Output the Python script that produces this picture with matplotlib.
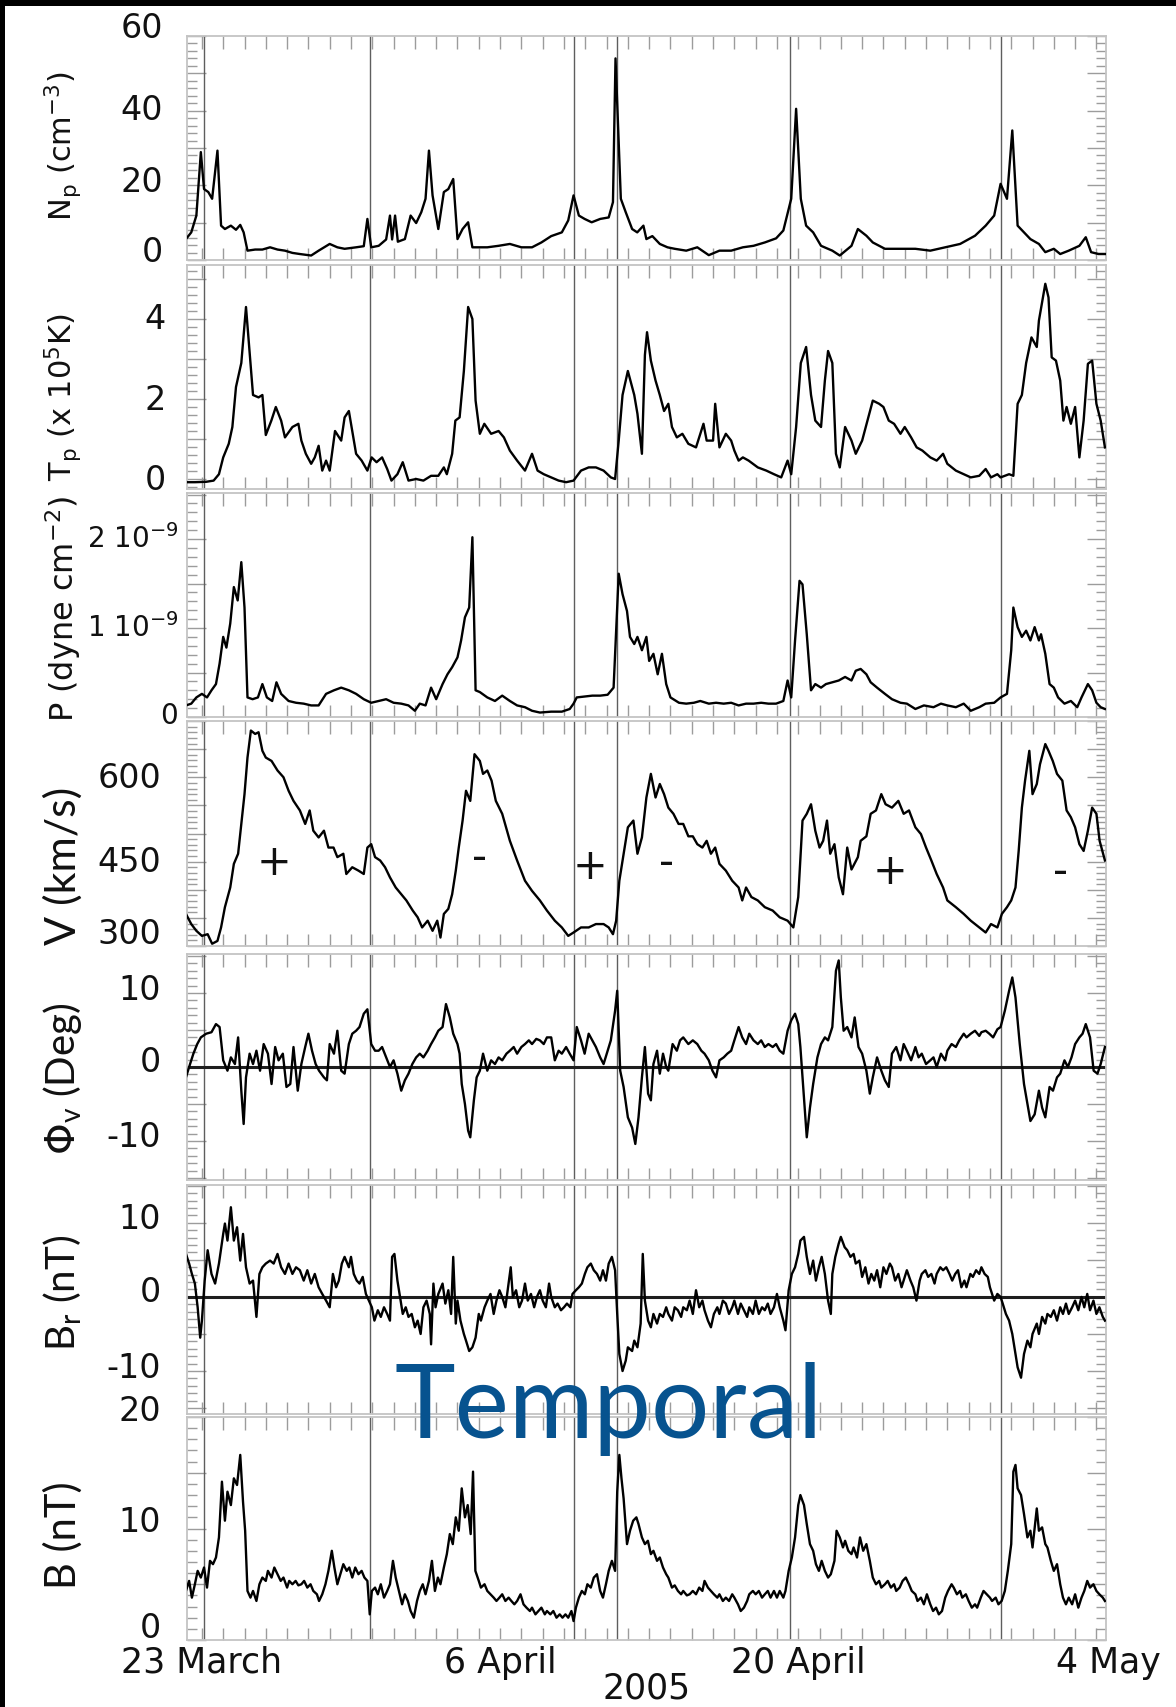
import matplotlib
matplotlib.use("Agg")
import matplotlib.pyplot as plt
from matplotlib import transforms
from matplotlib.patches import Rectangle
from matplotlib.ticker import MultipleLocator

# ------------------------------------------------------------------
# Solar-wind time series, time in days after 23 March 2005 00 UT
# ------------------------------------------------------------------
density = [  # (day, N_p  cm^-3)
    (-0.75, 5.6), (-0.5, 7.4), (-0.26, 11.9), (-0.05, 28.9), (0.1, 19.0), (0.3, 18.2), (0.48, 16.4),
    (0.73, 29.3), (0.9, 9.2), (1.08, 8.3), (1.36, 9.2), (1.6, 8.1), (1.8, 9.4), (1.96, 7.4), (2.14, 2.5),
    (2.5, 2.8), (2.84, 2.8), (3.2, 3.4), (3.55, 2.8), (3.9, 2.5), (4.25, 1.9), (4.6, 1.6), (5.13, 1.2),
    (5.48, 2.5), (6.0, 4.3), (6.36, 3.4), (6.7, 3.0), (7.24, 3.4), (7.6, 3.7), (7.77, 11.0), (7.95, 3.4),
    (8.3, 3.8), (8.65, 5.5), (8.83, 11.9), (8.93, 5.5), (9.07, 11.9), (9.2, 4.9), (9.53, 5.6), (9.8, 11.9),
    (10.06, 9.9), (10.3, 12.8), (10.5, 16.4), (10.66, 29.3), (10.83, 17.3), (11.1, 8.3), (11.36, 18.2),
    (11.57, 19.0), (11.8, 21.7), (12.0, 5.6), (12.24, 8.3), (12.5, 10.1), (12.7, 3.4), (13.4, 3.4),
    (13.93, 3.8), (14.46, 4.3), (15.0, 3.4), (15.5, 3.4), (15.94, 4.7), (16.4, 6.4), (16.9, 7.4),
    (17.2, 10.6), (17.45, 17.3), (17.7, 11.9), (17.97, 11.0), (18.3, 10.1), (18.7, 11.0), (19.1, 11.4),
    (19.3, 15.5), (19.42, 54.0), (19.67, 16.4), (19.9, 12.8), (20.2, 8.3), (20.44, 7.4), (20.73, 9.2),
    (20.87, 5.6), (21.15, 6.4), (21.5, 4.3), (21.86, 3.4), (22.2, 3.0), (22.74, 2.5), (23.26, 3.4),
    (23.8, 1.3), (24.3, 2.5), (24.85, 2.5), (25.4, 3.4), (25.9, 3.8), (26.43, 4.7), (26.96, 5.8),
    (27.3, 7.9), (27.67, 16.4), (27.9, 40.5), (28.12, 16.4), (28.37, 9.2), (28.7, 7.4), (29.07, 3.8),
    (29.6, 2.5), (29.95, 1.2), (30.5, 3.8), (30.8, 8.3), (31.2, 6.5), (31.5, 4.7), (32.07, 3.0),
    (32.77, 3.0), (33.5, 3.0), (34.2, 2.5), (34.9, 3.4), (35.6, 4.3), (36.3, 6.5), (36.8, 9.2),
    (37.2, 11.9), (37.5, 20.4), (37.8, 16.4), (38.05, 34.7), (38.3, 9.2), (38.6, 7.4), (38.9, 5.6),
    (39.3, 4.3), (39.6, 2.1), (40.0, 3.0), (40.3, 1.6), (40.7, 2.5), (41.2, 3.8), (41.5, 6.1),
    (41.75, 2.1), (42.1, 1.6), (42.4, 1.6),
]

temperature = [  # (day, T_p in 1e5 K)
    (-0.75, -0.08), (-0.33, -0.08), (0.2, -0.07), (0.55, -0.04), (0.8, 0.12), (1.0, 0.54), (1.26, 0.88),
    (1.43, 1.3), (1.6, 2.3), (1.85, 2.9), (2.07, 4.3), (2.25, 3.1), (2.4, 2.1), (2.66, 2.04), (2.84, 2.1),
    (3.0, 1.1), (3.26, 1.46), (3.47, 1.8), (3.72, 1.46), (3.9, 1.04), (4.25, 1.3), (4.53, 1.38),
    (4.67, 0.96), (4.88, 0.63), (5.13, 0.38), (5.3, 0.54), (5.48, 0.83), (5.65, 0.21), (5.83, 0.46),
    (6.0, 0.21), (6.25, 1.2), (6.54, 0.96), (6.7, 1.54), (6.9, 1.7), (7.06, 1.2), (7.24, 0.63),
    (7.5, 0.46), (7.77, 0.21), (7.97, 0.54), (8.2, 0.42), (8.46, 0.54), (8.7, 0.25), (8.9, -0.04),
    (9.18, 0.12), (9.43, 0.42), (9.7, -0.04), (10.06, 0.0), (10.4, -0.04), (10.76, 0.08), (11.1, 0.08),
    (11.36, 0.29), (11.5, 0.12), (11.75, 0.63), (11.9, 1.46), (12.1, 1.54), (12.3, 2.7), (12.5, 4.3),
    (12.7, 4.0), (12.85, 1.96), (13.05, 1.13), (13.26, 1.38), (13.58, 1.13), (13.93, 1.2), (14.18, 1.04),
    (14.46, 0.71), (14.8, 0.46), (15.17, 0.21), (15.5, 0.63), (15.76, 0.21), (16.05, 0.12), (16.4, 0.04),
    (16.75, -0.04), (17.1, -0.08), (17.45, -0.04), (17.8, 0.21), (18.16, 0.29), (18.5, 0.29),
    (18.86, 0.21), (19.2, 0.04), (19.4, 0.0), (19.57, 0.96), (19.75, 2.1), (20.0, 2.7), (20.3, 2.1),
    (20.45, 1.63), (20.66, 0.63), (20.8, 3.1), (20.9, 3.67), (21.08, 2.96), (21.3, 2.46), (21.5, 2.1),
    (21.7, 1.7), (21.9, 1.88), (22.07, 1.3), (22.3, 1.04), (22.56, 1.13), (22.84, 0.88), (23.2, 0.79),
    (23.55, 1.38), (23.7, 0.96), (24.0, 0.96), (24.1, 1.88), (24.3, 0.79), (24.6, 1.13), (24.85, 0.96),
    (25.0, 0.71), (25.2, 0.46), (25.4, 0.54), (25.67, 0.46), (26.1, 0.29), (26.5, 0.21), (26.86, 0.12),
    (27.2, 0.04), (27.5, 0.46), (27.67, 0.12), (27.9, 1.3), (28.12, 2.9), (28.37, 3.3), (28.6, 2.1),
    (28.8, 1.46), (29.07, 1.3), (29.25, 2.46), (29.4, 3.2), (29.6, 2.9), (29.77, 0.63), (29.95, 0.29),
    (30.2, 1.3), (30.5, 0.96), (30.7, 0.63), (31.0, 0.96), (31.25, 1.46), (31.5, 1.96), (31.8, 1.88),
    (32.0, 1.8), (32.25, 1.46), (32.5, 1.38), (32.8, 1.13), (33.0, 1.3), (33.3, 1.04), (33.56, 0.79),
    (33.83, 0.71), (34.2, 0.54), (34.5, 0.46), (34.8, 0.63), (35.0, 0.38), (35.4, 0.21), (35.77, 0.12),
    (36.1, 0.04), (36.5, 0.08), (36.8, 0.25), (37.05, 0.04), (37.35, 0.12), (37.5, 0.04), (37.7, 0.08),
    (37.9, 0.12), (38.1, 0.08), (38.3, 1.88), (38.5, 2.1), (38.7, 2.9), (38.95, 3.54), (39.2, 3.3),
    (39.3, 3.96), (39.6, 4.88), (39.75, 4.54), (39.9, 3.04), (40.1, 2.96), (40.3, 2.46), (40.45, 1.46),
    (40.6, 1.8), (40.8, 1.38), (41.0, 1.8), (41.2, 0.54), (41.4, 1.46), (41.6, 2.88), (41.8, 2.96),
    (42.0, 1.88), (42.2, 1.46), (42.4, 0.79),
]

pressure = [  # (day, P in 1e-9 dyne cm^-2)
    (-0.75, 0.13), (-0.5, 0.15), (-0.26, 0.22), (0.0, 0.26), (0.24, 0.22), (0.45, 0.3), (0.66, 0.37),
    (0.83, 0.6), (1.0, 0.9), (1.15, 0.78), (1.33, 1.05), (1.5, 1.46), (1.68, 1.31), (1.85, 1.74),
    (2.0, 1.23), (2.14, 0.22), (2.38, 0.2), (2.63, 0.22), (2.84, 0.37), (3.05, 0.22), (3.3, 0.18),
    (3.5, 0.39), (3.72, 0.26), (4.07, 0.18), (4.42, 0.16), (4.78, 0.15), (5.13, 0.13), (5.48, 0.13),
    (5.83, 0.26), (6.2, 0.3), (6.54, 0.33), (6.9, 0.3), (7.24, 0.26), (7.6, 0.2), (7.95, 0.16),
    (8.3, 0.18), (8.65, 0.2), (9.0, 0.16), (9.36, 0.15), (9.7, 0.13), (10.0, 0.07), (10.23, 0.15),
    (10.5, 0.13), (10.76, 0.33), (11.0, 0.2), (11.3, 0.37), (11.53, 0.48), (11.75, 0.56), (12.0, 0.67),
    (12.17, 0.86), (12.35, 1.12), (12.55, 1.23), (12.7, 2.02), (12.85, 0.3), (13.05, 0.28), (13.4, 0.22),
    (13.76, 0.18), (14.1, 0.24), (14.46, 0.18), (14.8, 0.13), (15.17, 0.11), (15.5, 0.07), (15.87, 0.05),
    (16.4, 0.06), (16.9, 0.06), (17.27, 0.09), (17.45, 0.15), (17.6, 0.22), (17.97, 0.23), (18.33, 0.24),
    (18.7, 0.24), (19.05, 0.25), (19.33, 0.33), (19.57, 1.61), (19.75, 1.38), (19.96, 1.19), (20.1, 0.9),
    (20.3, 0.82), (20.45, 0.9), (20.66, 0.75), (20.87, 0.9), (21.0, 0.63), (21.2, 0.71), (21.4, 0.48),
    (21.6, 0.71), (21.8, 0.37), (22.0, 0.22), (22.4, 0.16), (22.74, 0.15), (23.1, 0.16), (23.4, 0.18),
    (23.8, 0.15), (24.14, 0.16), (24.5, 0.15), (24.85, 0.16), (25.2, 0.13), (25.55, 0.15), (25.9, 0.15),
    (26.26, 0.16), (26.6, 0.15), (26.96, 0.15), (27.3, 0.18), (27.5, 0.41), (27.67, 0.22), (27.85, 0.86),
    (28.06, 1.53), (28.2, 1.49), (28.4, 0.93), (28.6, 0.3), (28.8, 0.37), (29.07, 0.33), (29.3, 0.37),
    (29.6, 0.39), (29.9, 0.41), (30.2, 0.45), (30.5, 0.41), (30.7, 0.52), (30.93, 0.54), (31.2, 0.48),
    (31.4, 0.39), (31.7, 0.33), (32.07, 0.26), (32.4, 0.2), (32.8, 0.16), (33.1, 0.15), (33.5, 0.09),
    (33.9, 0.13), (34.35, 0.11), (34.7, 0.15), (35.0, 0.13), (35.4, 0.11), (35.77, 0.15), (36.1, 0.07),
    (36.5, 0.11), (36.8, 0.15), (37.2, 0.16), (37.5, 0.22), (37.8, 0.26), (38.0, 0.75), (38.1, 1.23),
    (38.3, 1.01), (38.5, 0.9), (38.7, 0.97), (38.9, 0.86), (39.1, 1.01), (39.3, 0.86), (39.4, 0.93),
    (39.6, 0.71), (39.8, 0.37), (40.0, 0.33), (40.2, 0.22), (40.5, 0.15), (40.8, 0.18), (41.1, 0.11),
    (41.3, 0.22), (41.6, 0.37), (41.8, 0.3), (42.0, 0.16), (42.2, 0.11), (42.4, 0.09),
]

speed = [  # (day, V km/s)
    (-0.75, 357), (-0.5, 339), (-0.26, 327), (0.0, 318), (0.27, 321), (0.48, 304), (0.73, 309), (0.9, 333),
    (1.08, 369), (1.33, 404), (1.5, 446), (1.7, 464), (1.85, 517), (2.0, 570), (2.14, 635), (2.3, 683),
    (2.5, 677), (2.66, 680), (2.84, 647), (3.0, 635), (3.27, 629), (3.55, 612), (3.83, 600), (4.07, 576),
    (4.3, 558), (4.6, 541), (4.85, 517), (5.06, 541), (5.23, 505), (5.48, 493), (5.73, 505), (5.94, 475),
    (6.18, 475), (6.36, 458), (6.64, 464), (6.78, 428), (7.06, 440), (7.35, 434), (7.6, 428), (7.77, 475),
    (7.95, 481), (8.13, 458), (8.37, 452), (8.6, 440), (8.83, 422), (9.1, 404), (9.36, 392), (9.6, 381),
    (9.9, 363), (10.13, 351), (10.34, 333), (10.6, 345), (10.83, 327), (11.05, 345), (11.2, 315),
    (11.36, 357), (11.57, 366), (11.75, 392), (11.92, 434), (12.06, 475), (12.24, 523), (12.4, 576),
    (12.6, 558), (12.8, 641), (13.05, 629), (13.2, 606), (13.4, 612), (13.6, 594), (13.8, 558),
    (14.1, 535), (14.46, 487), (14.8, 452), (15.17, 416), (15.5, 398), (15.87, 381), (16.2, 363),
    (16.57, 345), (16.9, 333), (17.2, 318), (17.45, 324), (17.8, 333), (18.16, 333), (18.5, 339),
    (18.86, 339), (19.1, 333), (19.3, 321), (19.45, 345), (19.6, 416), (19.8, 464), (20.0, 511),
    (20.26, 523), (20.45, 464), (20.66, 493), (20.87, 564), (21.08, 606), (21.3, 564), (21.5, 588),
    (21.7, 570), (21.9, 546), (22.14, 535), (22.38, 517), (22.6, 517), (22.84, 495), (23.05, 495),
    (23.26, 481), (23.5, 475), (23.7, 487), (23.9, 464), (24.1, 475), (24.3, 446), (24.6, 434),
    (24.9, 416), (25.2, 404), (25.37, 381), (25.55, 404), (25.8, 387), (26.1, 381), (26.43, 369),
    (26.8, 363), (27.13, 351), (27.5, 345), (27.77, 333), (28.0, 387), (28.2, 523), (28.4, 535),
    (28.6, 552), (28.8, 505), (29.0, 475), (29.17, 487), (29.35, 523), (29.5, 464), (29.7, 481),
    (29.9, 422), (30.1, 392), (30.3, 475), (30.5, 436), (30.8, 458), (30.93, 487), (31.2, 495),
    (31.4, 535), (31.65, 541), (31.9, 570), (32.1, 552), (32.4, 546), (32.7, 558), (32.95, 535),
    (33.2, 541), (33.5, 511), (33.76, 499), (34.0, 475), (34.25, 452), (34.5, 428), (34.8, 404),
    (35.0, 381), (35.4, 369), (35.77, 357), (36.1, 345), (36.5, 333), (36.8, 324), (37.05, 339),
    (37.35, 333), (37.56, 357), (37.8, 369), (38.0, 381), (38.2, 404), (38.35, 469), (38.5, 546),
    (38.65, 594), (38.85, 647), (39.0, 570), (39.2, 588), (39.35, 623), (39.6, 659), (39.75, 647),
    (39.95, 629), (40.15, 606), (40.4, 594), (40.6, 541), (40.8, 529), (41.0, 511), (41.2, 481),
    (41.4, 469), (41.6, 505), (41.8, 546), (42.0, 535), (42.15, 487), (42.4, 452),
]

flow_angle = [  # (day, Phi_v deg)
    (-0.75, -1.4), (-0.6, 0.0), (-0.4, 1.8), (-0.22, 3.1), (-0.05, 4.0), (0.2, 4.5), (0.45, 4.7),
    (0.66, 5.8), (0.83, 5.4), (1.0, 0.9), (1.2, -0.5), (1.36, 1.3), (1.55, 0.4), (1.7, 4.0), (1.85, -3.2),
    (1.96, -7.7), (2.07, -1.4), (2.24, 1.8), (2.4, 0.4), (2.56, 2.2), (2.73, -0.5), (2.9, 3.1), (3.1, 1.8),
    (3.27, -2.3), (3.44, 2.7), (3.6, 0.9), (3.8, 1.8), (3.97, -2.7), (4.15, -2.3), (4.3, 2.7), (4.5, -3.2),
    (4.67, 0.4), (4.85, 2.7), (5.0, 4.5), (5.17, 2.2), (5.34, 0.4), (5.5, -0.5), (5.73, -1.4), (5.87, -1.8),
    (6.0, 3.1), (6.2, 1.8), (6.36, 4.9), (6.54, -0.5), (6.7, -0.9), (6.9, 3.1), (7.06, 4.5), (7.24, 4.9),
    (7.4, 5.4), (7.6, 7.2), (7.77, 7.8), (7.95, 3.1), (8.13, 2.2), (8.3, 2.2), (8.46, 2.7), (8.65, 1.3),
    (8.83, 0.0), (9.0, 0.9), (9.18, -0.9), (9.36, -3.2), (9.53, -1.8), (9.7, -0.9), (9.88, 0.4),
    (10.06, 1.3), (10.23, 1.8), (10.4, 1.3), (10.6, 2.2), (10.76, 3.1), (10.94, 4.0), (11.1, 4.9),
    (11.3, 5.4), (11.46, 8.5), (11.64, 6.7), (11.8, 4.5), (12.0, 3.1), (12.1, 1.8), (12.2, -2.3),
    (12.35, -5.0), (12.5, -8.6), (12.6, -9.5), (12.77, -4.5), (12.9, -1.4), (13.05, -0.5), (13.2, 1.8),
    (13.4, -0.5), (13.58, 0.9), (13.76, 0.4), (13.93, 1.3), (14.1, 0.9), (14.3, 1.8), (14.46, 2.2),
    (14.64, 2.7), (14.8, 1.8), (15.0, 2.7), (15.17, 3.1), (15.35, 3.6), (15.5, 3.1), (15.7, 3.8),
    (15.87, 3.6), (16.05, 3.1), (16.2, 4.0), (16.4, 4.0), (16.57, 0.9), (16.75, 2.2), (16.9, 1.8),
    (17.1, 2.7), (17.27, 1.8), (17.45, 0.9), (17.6, 5.4), (17.8, 3.6), (17.97, 1.8), (18.16, 4.5),
    (18.33, 3.6), (18.5, 2.7), (18.7, 1.3), (18.86, 0.4), (19.05, 2.2), (19.2, 3.6), (19.4, 7.6),
    (19.5, 10.3), (19.64, -0.5), (19.8, -2.7), (20.0, -6.8), (20.2, -8.2), (20.35, -10.4), (20.5, -6.8),
    (20.66, -1.4), (20.8, 2.7), (20.95, -3.6), (21.08, -4.5), (21.2, 0.4), (21.37, 2.2), (21.5, -0.9),
    (21.65, 1.8), (21.8, 0.0), (21.9, -0.5), (22.1, 3.1), (22.3, 2.2), (22.45, 3.6), (22.6, 4.0),
    (22.84, 3.1), (23.05, 3.6), (23.26, 3.1), (23.45, 2.2), (23.6, 1.8), (23.8, 0.9), (23.97, -0.5),
    (24.14, -1.4), (24.3, 0.9), (24.5, 1.3), (24.67, 1.8), (24.85, 2.2), (25.0, 3.6), (25.2, 5.4),
    (25.37, 4.0), (25.55, 3.1), (25.7, 4.5), (25.9, 3.6), (26.1, 3.1), (26.26, 3.6), (26.43, 2.7),
    (26.6, 3.1), (26.8, 2.7), (26.96, 3.1), (27.13, 2.2), (27.3, 1.8), (27.5, 4.9), (27.67, 6.3),
    (27.85, 7.2), (28.0, 5.8), (28.1, 2.7), (28.27, -4.1), (28.4, -9.5), (28.55, -5.5), (28.7, -2.3),
    (28.9, 1.3), (29.07, 3.1), (29.25, 4.0), (29.4, 3.6), (29.6, 5.4), (29.77, 13.0), (29.9, 14.4),
    (30.0, 9.4), (30.13, 4.9), (30.3, 5.4), (30.5, 4.0), (30.65, 6.7), (30.83, 2.7), (31.0, 1.8),
    (31.2, -0.5), (31.36, -3.6), (31.5, -1.4), (31.7, 1.3), (31.9, -0.5), (32.07, -1.8), (32.25, -2.7),
    (32.4, 1.8), (32.6, 2.7), (32.8, 0.9), (32.95, 3.1), (33.1, 2.2), (33.3, 0.9), (33.5, 2.7),
    (33.65, 1.3), (33.8, 1.8), (34.0, 0.4), (34.2, 0.9), (34.35, 1.3), (34.5, 0.0), (34.7, 1.8),
    (34.9, 0.9), (35.0, 2.2), (35.2, 3.1), (35.4, 2.7), (35.56, 3.6), (35.77, 4.5), (35.9, 4.0),
    (36.1, 4.5), (36.3, 4.9), (36.5, 4.2), (36.6, 4.7), (36.8, 4.9), (36.97, 4.5), (37.15, 4.0),
    (37.35, 5.1), (37.5, 5.4), (37.7, 7.6), (37.9, 10.3), (38.05, 12.1), (38.2, 9.4), (38.4, 3.1),
    (38.6, -2.3), (38.76, -5.0), (38.9, -7.3), (39.1, -6.4), (39.3, -3.2), (39.45, -5.5), (39.6, -6.8),
    (39.8, -2.7), (39.96, -3.2), (40.15, -1.4), (40.3, -0.9), (40.5, 0.9), (40.66, 0.0), (40.83, 1.3),
    (41.0, 3.1), (41.2, 4.0), (41.35, 4.5), (41.5, 5.8), (41.7, 4.0), (41.87, -0.5), (42.05, -0.9),
    (42.2, 0.4), (42.4, 2.7),
]

b_radial = [  # (day, B_r nT)
    (-0.75, 5.8), (-0.6, 4.5), (-0.47, 3.1), (-0.33, 1.8), (-0.2, -1.4), (-0.08, -5.5), (0.0, -3.2),
    (0.13, 2.2), (0.27, 6.3), (0.45, 3.1), (0.62, 1.8), (0.8, 4.5), (1.0, 8.5), (1.08, 9.9), (1.2, 7.6),
    (1.36, 12.1), (1.5, 7.6), (1.65, 9.4), (1.8, 4.9), (1.93, 8.5), (2.07, 4.0), (2.24, 1.8), (2.4, 2.2),
    (2.56, -2.7), (2.7, 3.1), (2.84, 4.0), (3.0, 4.5), (3.2, 4.9), (3.37, 4.5), (3.55, 5.8), (3.72, 4.0),
    (3.9, 3.1), (4.07, 4.5), (4.25, 3.1), (4.42, 4.0), (4.6, 3.6), (4.78, 2.2), (4.95, 3.6), (5.13, 1.8),
    (5.3, 3.1), (5.48, 1.3), (5.65, 0.4), (5.83, -0.5), (6.0, -1.4), (6.15, 3.1), (6.3, 1.3), (6.43, 2.2),
    (6.57, 4.5), (6.7, 5.4), (6.9, 4.0), (7.0, 5.4), (7.13, 3.1), (7.27, 2.2), (7.4, 1.8), (7.55, 2.7),
    (7.7, 0.4), (7.84, -0.5), (7.98, -1.4), (8.1, -3.2), (8.26, -1.8), (8.4, -2.7), (8.55, -1.4),
    (8.7, -2.3), (8.83, -3.2), (8.93, 5.4), (9.04, 5.8), (9.18, 2.2), (9.3, 0.0), (9.43, -2.3),
    (9.57, -1.4), (9.7, -2.7), (9.85, -2.3), (10.0, -4.1), (10.13, -3.2), (10.27, -5.0), (10.4, -1.4),
    (10.55, -0.5), (10.7, -2.3), (10.76, -6.4), (10.87, 1.8), (10.97, -1.4), (11.1, 0.4), (11.3, 1.8),
    (11.43, -0.9), (11.57, 0.9), (11.7, -2.3), (11.8, 5.4), (11.92, -3.6), (12.0, -0.5), (12.14, -3.2),
    (12.3, -5.0), (12.4, -5.9), (12.55, -7.3), (12.7, -6.8), (12.85, -5.5), (13.0, -2.3), (13.1, -3.2),
    (13.27, -1.4), (13.4, -0.5), (13.55, 0.4), (13.7, -2.3), (13.83, -0.5), (13.97, 0.9), (14.1, 0.0),
    (14.25, -1.4), (14.4, 1.8), (14.5, 4.0), (14.6, 0.0), (14.75, 0.9), (14.9, -1.4), (15.03, -0.5),
    (15.17, 1.8), (15.3, -0.5), (15.45, 0.4), (15.6, -1.4), (15.73, 0.0), (15.87, 0.9), (16.0, -0.5),
    (16.15, -1.4), (16.3, 1.8), (16.4, 0.0), (16.57, -1.4), (16.7, -0.9), (16.86, -1.8), (17.0, -1.4),
    (17.14, -0.9), (17.3, -1.4), (17.4, 0.4), (17.56, 0.9), (17.7, 1.3), (17.84, 1.8), (17.98, 3.1),
    (18.1, 4.0), (18.26, 4.5), (18.4, 3.6), (18.55, 3.1), (18.7, 2.2), (18.83, 3.6), (18.97, 2.2),
    (19.1, 4.5), (19.25, 5.4), (19.4, 3.6), (19.5, -2.3), (19.6, -7.7), (19.75, -10.0), (19.9, -8.6),
    (20.0, -6.8), (20.2, -7.3), (20.3, -5.9), (20.45, -6.8), (20.6, -3.6), (20.7, 5.8), (20.8, -0.5),
    (20.95, -3.2), (21.08, -4.1), (21.2, -2.3), (21.37, -3.6), (21.5, -2.3), (21.65, -2.7), (21.8, -1.4),
    (21.9, -2.3), (22.07, -3.2), (22.2, -1.4), (22.35, -1.8), (22.5, -2.7), (22.6, -1.4), (22.77, -1.8),
    (22.9, -0.5), (23.05, -2.3), (23.2, 0.9), (23.35, -1.4), (23.5, -0.5), (23.6, -1.8), (23.76, -3.2),
    (23.9, -4.1), (24.04, -2.3), (24.2, -1.4), (24.3, -2.3), (24.46, -0.5), (24.6, -0.9), (24.75, -2.3),
    (24.9, -1.4), (25.0, -0.5), (25.17, -2.3), (25.3, -0.9), (25.45, -1.8), (25.6, -2.7), (25.7, -1.4),
    (25.87, -2.3), (26.0, -0.5), (26.15, -2.3), (26.3, -1.4), (26.43, -1.8), (26.57, -0.9), (26.7, -2.3),
    (26.86, -1.4), (27.0, 0.4), (27.13, -1.4), (27.3, -3.2), (27.4, -4.5), (27.55, 0.9), (27.7, 3.1),
    (27.85, 4.0), (28.0, 5.8), (28.1, 7.6), (28.27, 8.1), (28.4, 5.4), (28.55, 3.1), (28.7, 4.9),
    (28.83, 2.2), (28.97, 4.0), (29.1, 5.4), (29.25, 3.1), (29.4, -0.5), (29.53, -2.3), (29.6, 3.1),
    (29.74, 5.4), (29.9, 7.2), (30.0, 8.1), (30.18, 6.7), (30.3, 6.3), (30.45, 5.4), (30.6, 5.8),
    (30.7, 4.5), (30.87, 4.9), (31.0, 2.7), (31.15, 4.0), (31.3, 1.8), (31.43, 3.1), (31.57, 2.2),
    (31.7, 3.6), (31.85, 1.3), (32.0, 4.0), (32.14, 3.1), (32.3, 4.5), (32.4, 4.0), (32.55, 2.2),
    (32.7, 3.1), (32.85, 1.3), (33.0, 2.7), (33.1, 3.6), (33.27, 2.2), (33.4, 1.3), (33.55, -0.5),
    (33.7, 2.2), (33.8, 3.1), (33.97, 3.6), (34.1, 2.7), (34.25, 3.1), (34.4, 1.8), (34.5, 3.1),
    (34.67, 4.0), (34.8, 3.6), (34.95, 4.0), (35.1, 3.1), (35.23, 2.2), (35.37, 3.1), (35.5, 3.6),
    (35.66, 1.3), (35.8, 2.2), (35.9, 1.3), (36.08, 3.1), (36.2, 2.7), (36.35, 3.6), (36.5, 3.1),
    (36.6, 4.0), (36.75, 3.1), (36.9, 2.7), (37.0, 1.3), (37.2, -0.5), (37.35, 0.4), (37.5, 0.0),
    (37.6, -0.9), (37.75, -2.3), (37.9, -3.2), (38.05, -5.0), (38.2, -7.7), (38.3, -9.5), (38.46, -10.9),
    (38.6, -7.7), (38.76, -5.9), (38.9, -6.8), (39.0, -5.0), (39.2, -3.6), (39.3, -5.0), (39.45, -2.7),
    (39.6, -3.6), (39.7, -2.3), (39.86, -2.7), (40.0, -1.8), (40.15, -3.2), (40.3, -1.4), (40.43, -2.3),
    (40.57, -0.9), (40.7, -2.3), (40.86, -1.4), (41.0, -0.5), (41.15, -1.8), (41.3, 0.0), (41.43, -1.4),
    (41.57, 0.4), (41.7, -1.8), (41.86, -0.5), (42.0, -2.3), (42.14, -1.4), (42.3, -2.7), (42.4, -3.2),
]

b_total = [  # (day, |B| nT)
    (-0.75, 4.4), (-0.6, 5.3), (-0.47, 3.8), (-0.33, 5.0), (-0.2, 6.2), (-0.05, 5.6), (0.1, 6.5),
    (0.24, 4.7), (0.38, 7.1), (0.52, 6.8), (0.66, 7.4), (0.8, 9.2), (0.94, 14.2), (1.08, 10.7),
    (1.2, 13.3), (1.36, 12.1), (1.5, 14.5), (1.65, 13.9), (1.8, 16.6), (1.93, 12.4), (2.03, 9.8),
    (2.14, 4.4), (2.28, 3.8), (2.4, 4.4), (2.56, 3.5), (2.7, 5.0), (2.84, 5.6), (3.0, 5.3), (3.1, 6.2),
    (3.27, 5.6), (3.4, 6.5), (3.55, 5.9), (3.7, 5.3), (3.83, 5.6), (4.0, 4.7), (4.1, 5.3), (4.25, 5.0),
    (4.4, 5.3), (4.53, 4.9), (4.67, 5.0), (4.8, 5.3), (4.95, 4.7), (5.1, 5.0), (5.23, 4.4), (5.4, 4.1),
    (5.5, 3.5), (5.65, 4.1), (5.8, 5.0), (5.94, 6.2), (6.1, 8.0), (6.22, 6.5), (6.36, 5.0), (6.5, 5.9),
    (6.64, 6.8), (6.8, 6.2), (6.92, 6.5), (7.06, 5.6), (7.2, 6.5), (7.35, 5.9), (7.5, 6.2), (7.63, 5.6),
    (7.77, 5.3), (7.88, 2.3), (7.98, 4.4), (8.13, 4.7), (8.26, 4.1), (8.4, 5.0), (8.55, 3.8), (8.7, 4.4),
    (8.83, 5.0), (8.97, 7.1), (9.1, 5.6), (9.25, 4.4), (9.4, 3.2), (9.53, 4.1), (9.67, 3.5), (9.8, 2.6),
    (9.95, 2.0), (10.1, 3.5), (10.23, 4.4), (10.37, 5.0), (10.5, 4.1), (10.66, 5.3), (10.8, 7.1),
    (10.94, 4.4), (11.08, 5.6), (11.2, 5.0), (11.36, 6.5), (11.5, 7.7), (11.64, 9.5), (11.78, 8.6),
    (11.92, 11.0), (12.06, 9.8), (12.2, 13.6), (12.35, 11.0), (12.48, 12.1), (12.62, 9.5), (12.73, 15.1),
    (12.84, 6.2), (13.0, 5.3), (13.1, 4.7), (13.27, 5.0), (13.4, 4.4), (13.55, 4.1), (13.7, 3.8),
    (13.83, 3.5), (13.97, 3.8), (14.1, 4.1), (14.25, 3.5), (14.4, 3.8), (14.53, 3.5), (14.67, 3.2),
    (14.8, 3.5), (14.96, 4.1), (15.1, 3.2), (15.24, 2.9), (15.4, 2.6), (15.5, 2.9), (15.66, 2.3),
    (15.8, 2.6), (15.94, 2.9), (16.1, 2.3), (16.2, 2.6), (16.36, 2.3), (16.5, 2.6), (16.65, 2.0),
    (16.8, 2.3), (16.93, 2.0), (17.07, 2.3), (17.2, 2.0), (17.35, 2.6), (17.45, 1.7), (17.56, 2.9),
    (17.7, 3.8), (17.84, 4.4), (17.98, 4.1), (18.1, 5.0), (18.26, 4.7), (18.4, 5.6), (18.55, 5.9),
    (18.7, 4.4), (18.83, 3.8), (18.97, 5.0), (19.1, 6.2), (19.25, 7.1), (19.4, 6.2), (19.5, 13.3),
    (19.6, 16.6), (19.7, 14.5), (19.8, 12.7), (19.96, 8.6), (20.1, 9.8), (20.25, 10.7), (20.4, 11.0),
    (20.5, 10.4), (20.66, 9.2), (20.8, 8.6), (20.94, 8.9), (21.08, 7.7), (21.2, 8.0), (21.37, 7.1),
    (21.5, 7.4), (21.65, 6.5), (21.8, 5.9), (21.9, 5.6), (22.07, 4.7), (22.2, 4.9), (22.35, 4.4),
    (22.5, 4.1), (22.6, 4.4), (22.77, 4.0), (22.9, 4.1), (23.05, 4.4), (23.2, 4.1), (23.35, 4.7),
    (23.5, 4.4), (23.6, 5.3), (23.76, 4.7), (23.9, 4.4), (24.04, 4.1), (24.2, 3.8), (24.3, 4.1),
    (24.46, 3.5), (24.6, 3.8), (24.75, 3.5), (24.9, 4.1), (25.0, 3.8), (25.17, 3.2), (25.3, 2.6),
    (25.45, 2.9), (25.6, 3.5), (25.7, 4.1), (25.87, 4.4), (26.0, 4.1), (26.15, 4.4), (26.3, 3.8),
    (26.43, 4.1), (26.57, 4.4), (26.7, 3.8), (26.86, 4.4), (27.0, 3.8), (27.13, 4.4), (27.3, 3.8),
    (27.4, 4.4), (27.55, 6.2), (27.7, 7.4), (27.85, 9.2), (28.0, 12.1), (28.1, 13.0), (28.27, 12.1),
    (28.4, 10.4), (28.55, 8.6), (28.7, 8.0), (28.83, 6.8), (28.97, 6.2), (29.1, 7.1), (29.25, 6.2),
    (29.4, 5.6), (29.53, 5.9), (29.7, 7.1), (29.8, 9.8), (29.95, 9.2), (30.1, 8.3), (30.2, 8.9),
    (30.35, 8.0), (30.5, 7.7), (30.6, 8.3), (30.76, 7.4), (30.9, 9.2), (31.05, 8.0), (31.2, 8.6),
    (31.36, 7.1), (31.5, 5.6), (31.65, 5.0), (31.8, 5.3), (31.9, 4.7), (32.07, 5.0), (32.2, 5.3),
    (32.35, 4.7), (32.5, 5.0), (32.6, 4.4), (32.76, 4.7), (32.9, 5.3), (33.05, 5.6), (33.2, 5.0),
    (33.33, 4.4), (33.5, 4.1), (33.6, 3.5), (33.76, 3.8), (33.9, 3.2), (34.04, 4.1), (34.2, 3.2),
    (34.33, 2.6), (34.47, 2.9), (34.6, 2.3), (34.75, 2.6), (34.9, 3.8), (35.03, 4.4), (35.2, 5.0),
    (35.3, 4.7), (35.45, 4.1), (35.6, 4.4), (35.7, 3.8), (35.87, 4.1), (36.0, 3.5), (36.15, 2.9),
    (36.3, 3.2), (36.4, 2.9), (36.57, 3.8), (36.7, 4.4), (36.85, 4.1), (37.0, 3.8), (37.1, 3.5),
    (37.27, 3.8), (37.4, 3.2), (37.55, 3.5), (37.7, 4.4), (37.84, 6.2), (38.0, 8.6), (38.1, 15.1),
    (38.2, 15.7), (38.3, 13.6), (38.46, 13.0), (38.6, 11.3), (38.76, 9.2), (38.9, 9.8), (39.0, 8.3),
    (39.2, 11.8), (39.3, 9.8), (39.45, 10.1), (39.6, 8.6), (39.7, 8.3), (39.86, 7.1), (40.0, 6.2),
    (40.15, 6.8), (40.3, 5.0), (40.43, 3.8), (40.57, 3.2), (40.7, 3.8), (40.86, 3.2), (41.0, 4.1),
    (41.15, 2.9), (41.3, 3.8), (41.43, 4.4), (41.57, 5.3), (41.7, 4.7), (41.86, 5.0), (42.0, 4.4),
    (42.14, 4.1), (42.3, 3.8), (42.4, 3.5),
]

# sector boundaries (days) and magnetic polarity of each interval
sector_days = [0.1, 7.9, 17.45, 19.5, 27.6, 37.5]
polarity_day = [3.38, 13.05, 18.2, 21.8, 32.3, 40.3]
polarity_speed = [449, 458, 442, 449, 433, 433]
polarity_sign = ['+', '-', '+', '-', '+', '-']

date_ticks = [0, 14, 28, 42]
date_labels = ['23 March', '6 April', '20 April', '4 May']
year_label = '2005'

# ------------------------------------------------------------------
# Figure layout (pixels on a 1176 x 1708 canvas)
# ------------------------------------------------------------------
W, H, DPI = 1176, 1708, 100
fig = plt.figure(figsize=(W / DPI, H / DPI), dpi=DPI, facecolor='white')

X0, X1 = 187, 1106
rows = [(37, 261), (266, 490), (494, 718), (722, 947), (955, 1181), (1186, 1415), (1418, 1641)]
XLIM = (-0.7, 42.45)

FRAME = '#c4c4c4'
TICK = '#9c9c9c'
HELV = ['DejaVu Sans']
GILL = ['Lato', 'DejaVu Sans']

panels = [
    dict(series=density, scale=1.0, ylim=(0, 60), major=10, minor=2,
         ticks=[0, 20, 40, 60], texts=['0', '20', '40', '60'], lift=[8, 4, 1, 9], gap=24, tsize=24,
         title=r'N$_{\mathregular{p}}$ (cm$^{\mathregular{-3}}$)', title_y=146, tfont=HELV, title_size=22),
    dict(series=temperature, scale=1.0, ylim=(-0.25, 5.35), major=1, minor=0.2,
         ticks=[0, 2, 4], texts=['0', '2', '4'], lift=[0, 0, 0], gap=21, tsize=24,
         title=r'T$_{\mathregular{p}}$ (x 10$^{\mathregular{5}}$K)', title_y=397, tfont=HELV, title_size=22),
    dict(series=pressure, scale=1e-9, ylim=(0, 2.517e-9), major=0.5e-9, minor=0.1e-9,
         ticks=[0, 1e-9, 2e-9],
         texts=['0', r'1 10$^{\mathregular{-9}}$', r'2 10$^{\mathregular{-9}}$'],
         lift=[2, 1, 1], gap=9, tsize=20,
         title=r'P (dyne cm$^{\mathregular{-2}}$)', title_y=609, tfont=HELV, title_size=23),
    dict(series=speed, scale=1.0, ylim=(300, 700), major=50, minor=10,
         ticks=[300, 450, 600], texts=['300', '450', '600'], lift=[12, 0, 0], gap=26, tsize=24,
         title='V (km/s)', title_y=866, tfont=GILL, title_size=31),
    dict(series=flow_angle, scale=1.0, ylim=(-15.27, 15.27), major=5, minor=1, zero=True,
         ticks=[-10, 0, 10], texts=['-10', '0', '10'], lift=[5, 5, 3], gap=26, tsize=24,
         title=r'$\Phi_{\mathregular{v}}$ (Deg)', title_y=1079, tfont=GILL, title_size=29),
    dict(series=b_radial, scale=1.0, ylim=(-15.8, 15.1), major=5, minor=1, zero=True,
         ticks=[-10, 0, 10], texts=['-10', '0', '10'], lift=[4, 5, 4], gap=26, tsize=24,
         title=r'B$_{\mathregular{r}}$ (nT)', title_y=1293, tfont=GILL, title_size=29),
    dict(series=b_total, scale=1.0, ylim=(0, 20), major=5, minor=1,
         ticks=[0, 10, 20], texts=['0', '10', '20'], lift=[12, 7, 6], gap=26, tsize=24,
         title='B (nT)', title_y=1535, tfont=GILL, title_size=30),
]

axes = []
for spec, (top, bot) in zip(panels, rows):
    ax = fig.add_axes([X0 / W, 1 - bot / H, (X1 - X0) / W, (bot - top) / H])
    axes.append(ax)
    t = [p[0] for p in spec['series']]
    v = [p[1] * spec['scale'] for p in spec['series']]
    ax.plot(t, v, color='black', lw=1.7, solid_joinstyle='round', zorder=3)
    for d in sector_days:
        ax.axvline(d, color='#5e5e5e', lw=1.0, zorder=2)
    if spec.get('zero'):
        ax.axhline(0, color='#1e1e1e', lw=2.2, zorder=2.5)

    ax.set_xlim(*XLIM)
    ax.set_ylim(*spec['ylim'])
    ax.xaxis.set_major_locator(MultipleLocator(1))
    ax.yaxis.set_major_locator(MultipleLocator(spec['major']))
    ax.yaxis.set_minor_locator(MultipleLocator(spec['minor']))
    ax.tick_params(axis='both', which='both', direction='in', color=TICK, width=1.0,
                   top=True, bottom=True, left=True, right=True,
                   labelleft=False, labelbottom=False)
    ax.tick_params(axis='x', which='major', length=9)
    ax.tick_params(axis='y', which='major', length=14)
    ax.tick_params(axis='y', which='minor', length=7)
    for s in ax.spines.values():
        s.set_color(FRAME)
        s.set_linewidth(1.3)

    # y tick labels
    for val, txt, lift in zip(spec['ticks'], spec['texts'], spec['lift']):
        off = transforms.ScaledTranslation(-spec['gap'] / DPI, lift / DPI, fig.dpi_scale_trans)
        ax.text(0, val, txt, transform=ax.get_yaxis_transform() + off,
                ha='right', va='center', fontsize=spec['tsize'], family=HELV, color='#111111')

    # rotated axis title
    fig.text(63 / W, 1 - spec['title_y'] / H, spec['title'], rotation=90,
             ha='center', va='center', fontsize=spec['title_size'], family=spec['tfont'],
             color='#111111')

# sector polarity signs on the speed panel
ax_v = axes[3]
for d, vv, s in zip(polarity_day, polarity_speed, polarity_sign):
    ax_v.text(d, vv, s, ha='center', va='center', fontsize=30, family=HELV, color='#111111', zorder=4)

# date labels under the bottom panel
ax_b = axes[-1]
for i, (d, lab) in enumerate(zip(date_ticks, date_labels)):
    dx = 12 if i == len(date_ticks) - 1 else 0
    off = transforms.ScaledTranslation(dx / DPI, -32 / DPI, fig.dpi_scale_trans)
    ax_b.text(d, 0, lab, transform=ax_b.get_xaxis_transform() + off,
              ha='center', va='baseline', fontsize=25, family=HELV, color='#111111')
off = transforms.ScaledTranslation(0, -58 / DPI, fig.dpi_scale_trans)
ax_b.text(0.5, 0, year_label, transform=ax_b.transAxes + off,
          ha='center', va='baseline', fontsize=25, family=HELV, color='#111111')

# slide caption
fig.text(395 / W, 1 - 1438 / H, 'Temporal', ha='left', va='baseline',
         fontsize=74, family=GILL, color='#07538f', zorder=10)

# black slide edges
fig.add_artist(Rectangle((0, 1 - 7 / H), 1, 7 / H, transform=fig.transFigure,
                         facecolor='black', edgecolor='none', zorder=20))
fig.add_artist(Rectangle((0, 0), 5 / W, 1, transform=fig.transFigure,
                         facecolor='black', edgecolor='none', zorder=20))

fig.savefig('out.png', dpi=DPI, facecolor='white')
